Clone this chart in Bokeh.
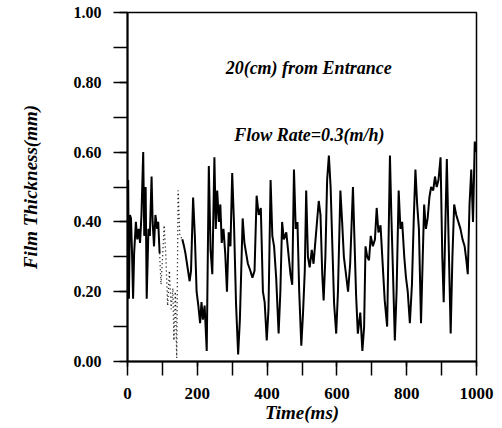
from bokeh.plotting import figure
from bokeh.models import Label, FixedTicker, NumeralTickFormatter, Range1d
from bokeh.embed import file_html
from bokeh.resources import INLINE

# ---- data ----
time_a = [0, 2, 4, 7, 10, 13, 16, 19, 24, 28, 32, 36, 40, 45, 48, 52, 55, 60, 64, 69, 72, 76, 80, 85, 88, 92]
thick_a = [0.43, 0.52, 0.18, 0.42, 0.41, 0.31, 0.18, 0.31, 0.40, 0.35, 0.38, 0.34, 0.42, 0.60, 0.36, 0.50,
           0.18, 0.38, 0.36, 0.53, 0.40, 0.33, 0.42, 0.38, 0.40, 0.31]

time_gap = [92, 96, 100, 105, 110, 115, 120, 125, 130, 133, 137, 141, 145, 150, 157]
thick_gap = [0.31, 0.22, 0.29, 0.39, 0.30, 0.16, 0.26, 0.15, 0.21, 0.06, 0.20, 0.01, 0.49, 0.36, 0.35]

time_b = [157, 162, 166, 172, 178, 182, 188, 193, 198, 203, 208, 212, 216, 221, 227, 233, 238, 243, 249, 253,
          257, 262, 266, 270, 275, 280, 285, 290, 295, 300, 305, 311, 317, 322, 330, 335, 340, 345, 352, 358,
          364, 370, 376, 382, 388, 393, 399, 404, 410, 415, 420, 426, 433, 438, 443, 448, 455, 462, 467, 472,
          477, 482, 487, 492, 498, 503, 508, 512, 517, 522, 528, 533, 538, 543, 548, 553, 558, 562, 567, 572,
          577, 582, 587, 592, 598, 603, 610, 615, 620, 626, 632, 638, 646, 650, 655, 660, 667, 673, 678, 682,
          687, 692, 697, 703, 709, 714, 719, 725, 730, 737, 744, 752, 756, 760, 766, 771, 777, 782, 787, 793,
          798, 803, 809, 815, 820, 825, 830, 835, 841, 846, 850, 855, 860, 865, 870, 876, 881, 886, 891, 897,
          902, 906, 911, 915, 920, 926, 931, 936, 942, 948, 954, 960, 966, 971, 975, 980, 985, 990, 995, 1000]
thick_b = [0.35, 0.33, 0.31, 0.27, 0.23, 0.26, 0.47, 0.36, 0.20, 0.16, 0.11, 0.17, 0.12, 0.16, 0.03, 0.56, 0.32,
           0.25, 0.585, 0.38, 0.49, 0.40, 0.45, 0.34, 0.38, 0.31, 0.20, 0.37, 0.33, 0.54, 0.40, 0.165, 0.02, 0.12,
           0.41, 0.34, 0.31, 0.28, 0.26, 0.24, 0.26, 0.475, 0.42, 0.44, 0.20, 0.17, 0.06, 0.15, 0.52, 0.36, 0.33,
           0.24, 0.08, 0.20, 0.40, 0.35, 0.37, 0.30, 0.25, 0.22, 0.55, 0.38, 0.40, 0.20, 0.045, 0.14, 0.26, 0.49,
           0.30, 0.27, 0.32, 0.28, 0.34, 0.40, 0.46, 0.42, 0.25, 0.175, 0.30, 0.52, 0.59, 0.50, 0.33, 0.165, 0.08,
           0.20, 0.49, 0.40, 0.30, 0.25, 0.20, 0.28, 0.50, 0.36, 0.19, 0.08, 0.14, 0.03, 0.10, 0.33, 0.30, 0.29,
           0.36, 0.33, 0.35, 0.44, 0.37, 0.39, 0.30, 0.175, 0.10, 0.59, 0.42, 0.28, 0.06, 0.20, 0.49, 0.38, 0.40,
           0.30, 0.24, 0.20, 0.11, 0.22, 0.40, 0.55, 0.45, 0.38, 0.11, 0.30, 0.45, 0.38, 0.41, 0.47, 0.50, 0.49,
           0.53, 0.50, 0.52, 0.585, 0.30, 0.17, 0.40, 0.58, 0.35, 0.08, 0.30, 0.45, 0.42, 0.40, 0.38, 0.35, 0.33,
           0.29, 0.25, 0.45, 0.55, 0.40, 0.63, 0.60]

x_ticks = [0, 200, 400, 600, 800, 1000]
y_ticks = [0.0, 0.2, 0.4, 0.6, 0.8, 1.0]
x_title = "Time(ms)"
y_title = "Film Thickness(mm)"
note_1 = "20(cm) from Entrance"
note_2 = "Flow Rate=0.3(m/h)"

SERIF = "Liberation Serif"

p = figure(width=502, height=428, output_backend="svg", toolbar_location=None,
           x_range=Range1d(0, 1000), y_range=Range1d(0, 1.0),
           min_border_left=127, min_border_right=26, min_border_top=12, min_border_bottom=67)
p.background_fill_color = "white"
p.border_fill_color = "white"
p.xgrid.visible = False
p.ygrid.visible = False
p.outline_line_color = "black"
p.outline_line_width = 1.5

p.line(time_a, thick_a, line_color="black", line_width=2.0)
p.line(time_gap, thick_gap, line_color="black", line_width=1.3, line_dash="1 3")
p.line(time_b, thick_b, line_color="black", line_width=2.0)

xa = p.xaxis[0]
xa.ticker = FixedTicker(ticks=x_ticks, minor_ticks=list(range(0, 1001, 100)))
xa.axis_line_width = 2
xa.major_tick_out = 5
xa.major_tick_in = 0
xa.minor_tick_out = 14
xa.minor_tick_in = 0
xa.major_tick_line_width = 1.5
xa.minor_tick_line_width = 1.5
xa.major_label_standoff = 12
xa.major_label_text_font = SERIF
xa.major_label_text_font_style = "bold"
xa.major_label_text_font_size = "17px"
xa.major_label_text_color = "black"
xa.axis_label = x_title
xa.axis_label_standoff = 0
xa.axis_label_text_font = SERIF
xa.axis_label_text_font_style = "bold italic"
xa.axis_label_text_font_size = "19px"
xa.axis_label_text_color = "black"

ya = p.yaxis[0]
ya.ticker = FixedTicker(ticks=y_ticks, minor_ticks=[i / 10 for i in range(11)])
ya.formatter = NumeralTickFormatter(format="0.00")
ya.axis_line_width = 2
ya.major_tick_out = 8
ya.major_tick_in = 0
ya.minor_tick_out = 14
ya.minor_tick_in = 0
ya.major_tick_line_width = 1.5
ya.minor_tick_line_width = 1.5
ya.major_label_standoff = 12
ya.major_label_text_font = SERIF
ya.major_label_text_font_style = "bold"
ya.major_label_text_font_size = "16px"
ya.major_label_text_color = "black"
ya.axis_label = y_title
ya.axis_label_standoff = 30
ya.axis_label_text_font = SERIF
ya.axis_label_text_font_style = "bold italic"
ya.axis_label_text_font_size = "19px"
ya.axis_label_text_color = "black"

common = dict(text_font=SERIF, text_font_style="bold italic", text_color="black",
              text_align="center", text_baseline="middle")
p.add_layout(Label(x=519, y=0.84, text=note_1, text_font_size="18px", **common))
p.add_layout(Label(x=521, y=0.65, text=note_2, text_font_size="18px", **common))

open("out.html", "w").write(file_html(p, INLINE))
